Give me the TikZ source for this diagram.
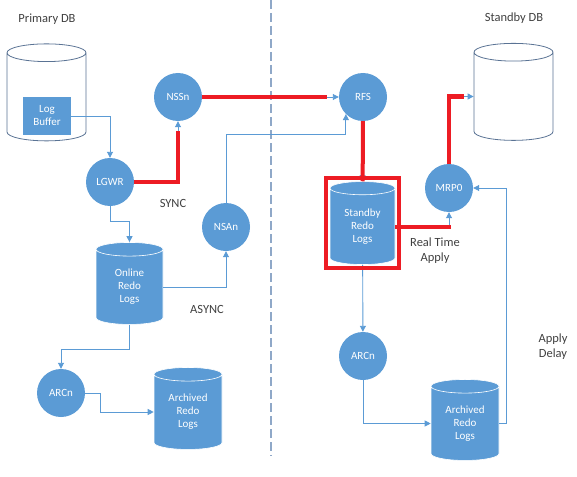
\documentclass[tikz,border=0pt]{standalone}
\usepackage{fontspec}
\setmainfont{Carlito}
\usetikzlibrary{shapes.geometric,arrows.meta,fit}
\definecolor{dgblue}{HTML}{5B9BD5}
\definecolor{dgred}{HTML}{ED1C24}
\definecolor{dgtext}{HTML}{404040}
\definecolor{dgedge}{HTML}{5A7394}
\definecolor{dgdash}{HTML}{8FA8C8}
\tikzset{
  proc/.style={circle,fill=dgblue,text=white,minimum size=48pt,inner sep=0pt,font=\fontsize{11}{12}\selectfont},
  logs/.style={cylinder,shape border rotate=90,aspect=0.22,fill=dgblue,draw=white,line width=0.6pt,text=white,align=center,text width=62pt,inner sep=0pt,font=\fontsize{11}{13}\selectfont},
  dbase/.style={cylinder,shape border rotate=90,aspect=0.23,draw=dgedge,line width=0.8pt,fill=white,text width=77pt,inner sep=0pt},
  link/.style={draw=dgblue,line width=0.9pt,-{Triangle[width=6pt,length=6pt]}},
  hl/.style={draw=dgred,line width=4pt},
  lbl/.style={text=dgtext,font=\fontsize{12.5}{15}\selectfont,align=center}
}
\begin{document}
\begin{tikzpicture}[x=1pt,y=-1pt]
\useasboundingbox (0,0) rectangle (577,476);
\draw[dgdash,line width=1.2pt,dash pattern=on 9pt off 4pt] (271,0) -- (271,456);

\node[lbl] (primlbl) at (47,19) {Primary DB};
\node[lbl] (stbylbl) at (514,18) {Standby DB};
\node[lbl] (synclbl) at (173,203) {SYNC};
\node[lbl] (asynclbl) at (207,309) {ASYNC};
\node[lbl] (rtalbl) at (435,251) {Real Time\\Apply};
\node[lbl] (dellbl) at (553,347) {Apply\\Delay};

\node[dbase,minimum width=79pt,minimum height=97pt] (pdb) at (46.5,97) {};
\node[fill=dgblue,text=white,align=center,minimum width=48pt,minimum height=38pt,inner sep=0pt,font=\fontsize{11}{13}\selectfont] (logbuf) at (47,116) {Log\\Buffer};
\node[dbase,minimum width=79pt,minimum height=97pt] (sdb) at (513.5,96.5) {};

\node[proc] (lgwr) at (110,182) {LGWR};
\node[proc] (nssn) at (178,97) {NSSn};
\node[proc] (nsan) at (226,227) {NSAn};
\node[proc] (arcp) at (61,393) {ARCn};
\node[proc] (rfs) at (363,97) {RFS};
\node[proc] (mrp) at (449,188) {MRP0};
\node[proc] (arcs) at (363,356) {ARCn};

\node[logs,minimum width=67pt,minimum height=82pt] (online) at (129.5,287) {Online\\Redo\\Logs};
\node[logs,minimum width=68pt,minimum height=82pt] (arch1) at (188,412) {Archived\\Redo\\Logs};
\node[logs,minimum width=65pt,minimum height=83pt,text width=60pt] (standby) at (362.5,226.5) {Standby\\Redo\\Logs};
\node[logs,minimum width=68pt,minimum height=81pt] (arch2) at (465,423.5) {Archived\\Redo\\Logs};

\draw[link] (logbuf) -| (lgwr);
\draw[link] (lgwr.south) -- ++(0,15) -| (online);
\draw[link] (online) -| (nsan);
\draw[link] (online.south) -- ++(0,25) -| (arcp);
\draw[link] (arcp.east) -- ++(15,0) |- (arch1);
\draw[link] (nsan.north) -- ++(0,-68) -| (rfs.225);
\draw[link] (standby) -- (arcs);
\draw[link] (arcs) |- (arch2);
\draw[link] (arch2.east) -- ++(7,0) |- (mrp);

\draw[link] (lgwr) -| (nssn);
\draw[link] (nssn) -- (rfs);
\draw[link] (rfs) -- (standby);
\draw[link] (standby) -| (mrp);
\draw[link] (mrp) |- (sdb);

\draw[hl,shorten >=10pt] (lgwr) -| (nssn);
\draw[hl,shorten >=12pt] (nssn) -- (rfs);
\draw[hl] (rfs) -- (standby);
\draw[hl,shorten >=13pt] (standby.east) -| (mrp);
\draw[hl,shorten >=10pt] (mrp) |- (sdb);
\node[hl,fit=(standby),inner sep=3.5pt] (hlbox) {};
\end{tikzpicture}
\end{document}
